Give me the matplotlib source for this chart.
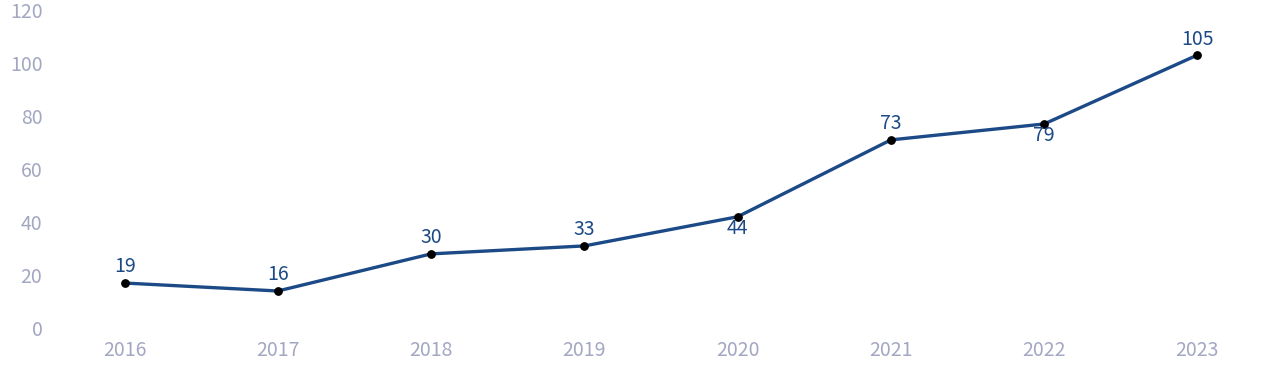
import matplotlib.pyplot as plt
import matplotlib.transforms as mtransforms

plt.rcParams['font.family'] = ['Noto Sans CJK SC', 'DejaVu Sans']

# Dữ liệu
years = ['2016', '2017', '2018', '2019', '2020', '2021', '2022', '2023']
values = [19, 16, 30, 33, 44, 73, 79, 105]
label_below = [False, False, False, False, True, False, True, False]

line_color = '#1c4a87'
tick_color = '#a3a7c2'

fig = plt.figure(figsize=(12.8, 3.82), dpi=100)
ax = fig.add_axes([48 / 1280, 1 - 333.4 / 382, (1274 - 48) / 1280, (333.4 - 15.3) / 382])

x = list(range(len(years)))
ax.plot(x, values, color=line_color, linewidth=2.4, zorder=2)
ax.scatter(x, values, color='black', s=28, zorder=3)

for xi, v, below in zip(x, values, label_below):
    if below:
        ax.annotate(str(v), (xi, v), xytext=(0, -1), textcoords='offset points',
                    ha='center', va='top', fontsize=14, color=line_color)
    else:
        ax.annotate(str(v), (xi, v), xytext=(0, 4), textcoords='offset points',
                    ha='center', va='bottom', fontsize=14, color=line_color)

ax.set_xlim(-0.5, len(years) - 0.5)
ax.set_ylim(0, 120)
ax.set_xticks(x)
ax.set_xticklabels(years)
ax.set_yticks(range(0, 121, 20))

ax.tick_params(axis='both', length=0, labelsize=14, colors=tick_color)
ax.tick_params(axis='x', pad=5)
ax.tick_params(axis='y', pad=4)

# nhãn trục y hơi lệch lên như bản gốc
offset = mtransforms.ScaledTranslation(0, 5 / 100, fig.dpi_scale_trans)
for lbl in ax.get_yticklabels():
    lbl.set_transform(lbl.get_transform() + offset)

for s in ax.spines.values():
    s.set_visible(False)

fig.savefig('out.png', dpi=100)
